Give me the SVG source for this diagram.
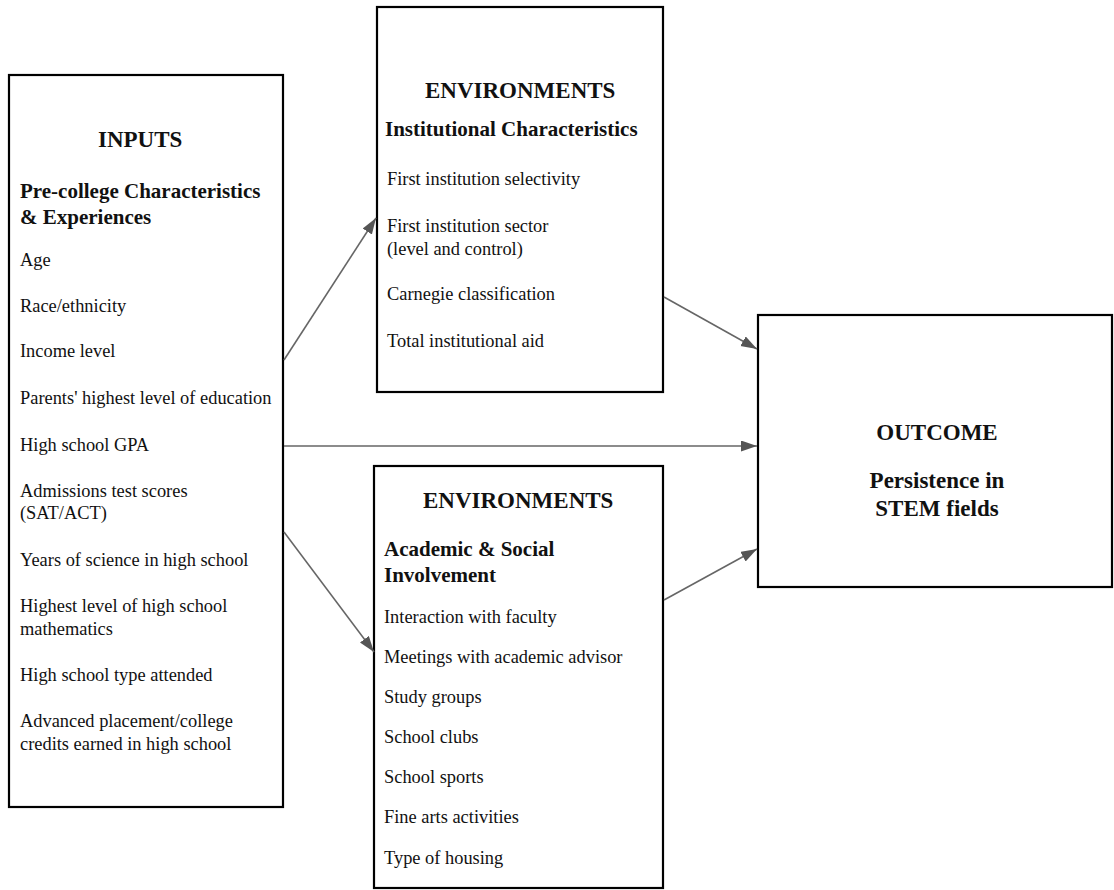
<svg xmlns="http://www.w3.org/2000/svg" width="1114" height="890" viewBox="0 0 1114 890">
<style>
.box{fill:#fff;stroke:#000;stroke-width:2.2}
text{font-family:"Liberation Serif","Times New Roman",serif;fill:#111}
.h{font-size:23px;font-weight:bold}
.s{font-size:21px;font-weight:bold}
.t{font-size:18.4px}
.c{text-anchor:middle}
.edge{stroke:#666;stroke-width:1.6;fill:none;marker-end:url(#arr)}
</style>
<defs>
<marker id="arr" markerUnits="userSpaceOnUse" markerWidth="17" markerHeight="12" refX="16" refY="5.5" orient="auto">
<path d="M0,0 L16,5.5 L0,11 z" fill="#555"/>
</marker>
</defs>
<rect width="1114" height="890" fill="#fff"/>
<g id="inputs">
<rect class="box" x="9" y="75" width="274" height="732"/>
<text class="h" x="98" y="147">INPUTS</text>
<text class="s" x="20" y="198">Pre-college Characteristics</text>
<text class="s" x="20" y="224">&amp; Experiences</text>
<text class="t" x="20" y="266">Age</text>
<text class="t" x="20" y="312">Race/ethnicity</text>
<text class="t" x="20" y="357">Income level</text>
<text class="t" x="20" y="404">Parents' highest level of education</text>
<text class="t" x="20" y="451">High school GPA</text>
<text class="t" x="20" y="497">Admissions test scores</text>
<text class="t" x="20" y="519">(SAT/ACT)</text>
<text class="t" x="20" y="566">Years of science in high school</text>
<text class="t" x="20" y="612">Highest level of high school</text>
<text class="t" x="20" y="635">mathematics</text>
<text class="t" x="20" y="681">High school type attended</text>
<text class="t" x="20" y="727">Advanced placement/college</text>
<text class="t" x="20" y="750">credits earned in high school</text>
</g>
<g id="env-institutional">
<rect class="box" x="377" y="7" width="286" height="385"/>
<text class="h" x="425" y="98">ENVIRONMENTS</text>
<text class="s" x="385" y="136">Institutional Characteristics</text>
<text class="t" x="387" y="185">First institution selectivity</text>
<text class="t" x="387" y="232">First institution sector</text>
<text class="t" x="387" y="255">(level and control)</text>
<text class="t" x="387" y="300">Carnegie classification</text>
<text class="t" x="387" y="347">Total institutional aid</text>
</g>
<g id="env-involvement">
<rect class="box" x="374" y="466" width="289" height="422"/>
<text class="h" x="423" y="508">ENVIRONMENTS</text>
<text class="s" x="384" y="556">Academic &amp; Social</text>
<text class="s" x="384" y="582">Involvement</text>
<text class="t" x="384" y="623">Interaction with faculty</text>
<text class="t" x="384" y="663">Meetings with academic advisor</text>
<text class="t" x="384" y="703">Study groups</text>
<text class="t" x="384" y="743">School clubs</text>
<text class="t" x="384" y="783">School sports</text>
<text class="t" x="384" y="823">Fine arts activities</text>
<text class="t" x="384" y="864">Type of housing</text>
</g>
<g id="outcome">
<rect class="box" x="758" y="315" width="354" height="272"/>
<text class="h c" x="937" y="440">OUTCOME</text>
<text class="h c" x="937" y="488">Persistence in</text>
<text class="h c" x="937" y="516">STEM fields</text>
</g>
<g id="connectors">
<line class="edge" x1="284" y1="360" x2="376" y2="218"/>
<line class="edge" x1="284" y1="446" x2="757" y2="446"/>
<line class="edge" x1="284" y1="532" x2="374" y2="652"/>
<line class="edge" x1="664" y1="297" x2="757" y2="349"/>
<line class="edge" x1="664" y1="600" x2="757" y2="549"/>
</g>
</svg>
